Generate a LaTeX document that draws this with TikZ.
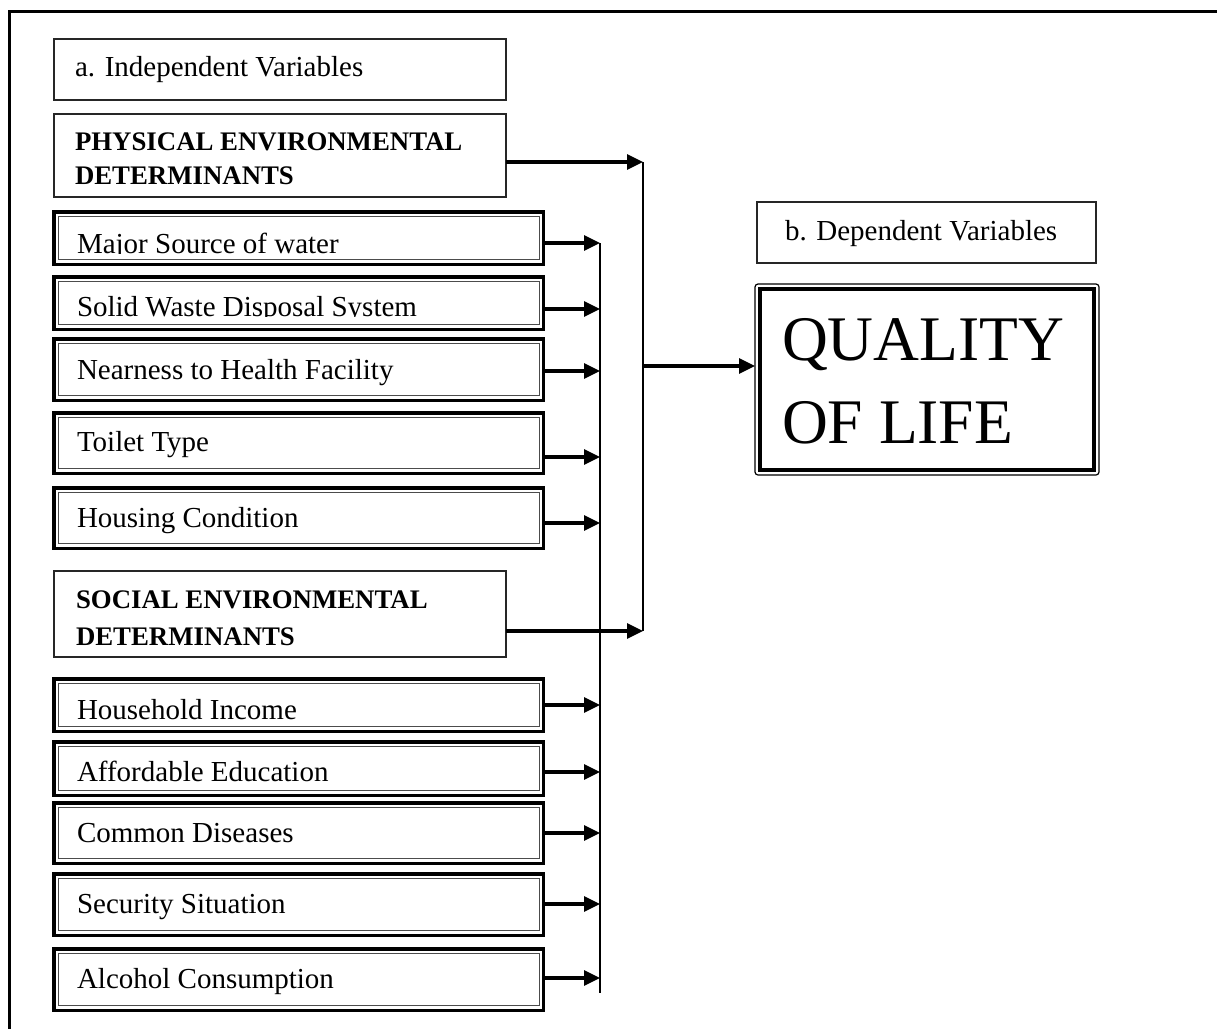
\documentclass[tikz,border=0pt]{standalone}
\usepackage{fontspec}
\setmainfont{Liberation Serif}
\usetikzlibrary{arrows.meta,calc}
\begin{document}
\begin{tikzpicture}[x=1pt,y=-1pt,
  thinbox/.style={draw=black!85, line width=1.3pt, inner sep=0pt, outer sep=0pt, anchor=north west},
  dbox/.style={draw, line width=3.5pt, inner sep=0pt, outer sep=0pt, anchor=north west, minimum width=489.5pt,
    path picture={\draw[line width=1pt, black!70]
      ([shift={(4.5pt,-4.5pt)}]path picture bounding box.north west) rectangle
      ([shift={(-4.5pt,4.5pt)}]path picture bounding box.south east);}},
  qolbox/.style={draw, line width=1.2pt, rounded corners=3pt, inner sep=0pt, outer sep=0pt, anchor=north west,
    path picture={\draw[line width=3.5pt, sharp corners]
      ([shift={(5pt,-5pt)}]path picture bounding box.north west) rectangle
      ([shift={(-5pt,5pt)}]path picture bounding box.south east);}},
  txt/.style={anchor=base west, inner sep=0pt, outer sep=0pt, font=\fontsize{29}{34}\selectfont},
  btxt/.style={anchor=base west, inner sep=0pt, outer sep=0pt, font=\fontsize{26.8}{32}\selectfont\bfseries},
  bigtxt/.style={anchor=base west, inner sep=0pt, outer sep=0pt, font=\fontsize{63.5}{76}\selectfont},
  arr/.style={line width=3.2pt, -{Triangle[length=16pt,width=15pt]}},
  busline/.style={line width=2pt}
]
\useasboundingbox (0,0) rectangle (1217,1028);
\clip (0,0) rectangle (1217,1028);
\fill[white] (0,0) rectangle (1217,1028);

% outer frame (cut off at right and bottom)
\draw[line width=3pt] (9,1040) -- (9,11) -- (1230,11);

% header boxes
\node[thinbox, minimum width=452pt, minimum height=61pt] (indep) at (54,39) {};
\node[txt] (tindep) at (75,76) {a. Independent Variables};

\node[thinbox, minimum width=452pt, minimum height=83pt] (phys) at (54,114) {};
\node[btxt] (tphysa) at (75,150) {PHYSICAL ENVIRONMENTAL};
\node[btxt] (tphysb) at (75,184) {DETERMINANTS};

\node[thinbox, minimum width=452pt, minimum height=86pt] (soc) at (54,571) {};
\node[btxt] (tsoca) at (76,608) {SOCIAL ENVIRONMENTAL};
\begin{scope}
  \clip (60,600) rectangle (500,645);
  \node[btxt] (tsocb) at (76,645) {DETERMINANTS};
\end{scope}

\node[thinbox, minimum width=339pt, minimum height=61pt] (dep) at (757,202) {};
\node[txt] (tdep) at (785,240) {b. Dependent Variables};

% quality of life
\node[qolbox, minimum width=344pt, minimum height=191pt] (qol) at (755,284) {};
\node[bigtxt] (tqa) at (782,360) {QUALITY};
\node[bigtxt] (tqb) at (782,443) {OF LIFE};

% physical items
\node[dbox, minimum height=52.5pt] (b1) at (54,211.75) {};
\begin{scope}
  \clip (60,200) rectangle (540,253.5);
  \node[txt] (t1) at (77,253) {Major Source of water};
\end{scope}
\node[dbox, minimum height=52.5pt] (b2) at (54,276.75) {};
\begin{scope}
  \clip (60,280) rectangle (540,316.5);
  \node[txt] (t2) at (77,316) {Solid Waste Disposal System};
\end{scope}
\node[dbox, minimum height=61.5pt] (b3) at (54,338.75) {};
\node[txt] (t3) at (77,379) {Nearness to Health Facility};
\node[dbox, minimum height=60.5pt] (b4) at (54,412.75) {};
\node[txt] (t4) at (77,451) {Toilet Type};
\node[dbox, minimum height=60.5pt] (b5) at (54,487.75) {};
\node[txt] (t5) at (77,527) {Housing Condition};

% social items
\node[dbox, minimum height=52.5pt] (b6) at (54,678.75) {};
\begin{scope}
  \clip (60,680) rectangle (540,719.5);
  \node[txt] (t6) at (77,719) {Household Income};
\end{scope}
\node[dbox, minimum height=53.5pt] (b7) at (54,741.75) {};
\node[txt] (t7) at (77,781) {Affordable Education};
\node[dbox, minimum height=60.5pt] (b8) at (54,802.75) {};
\node[txt] (t8) at (77,842) {Common Diseases};
\node[dbox, minimum height=61.5pt] (b9) at (54,873.75) {};
\node[txt] (t9) at (77,913) {Security Situation};
\node[dbox, minimum height=61.5pt] (b10) at (54,948.75) {};
\node[txt] (t10) at (77,988) {Alcohol Consumption};

% bus lines
\coordinate (bus1) at (600,243);
\coordinate (bus1end) at (600,993);
\coordinate (bus2) at (643,162);
\coordinate (bus2end) at (643,631);
\draw[busline] (bus1) -- (bus1end);
\draw[busline] (bus2) -- (bus2end);

% arrows into bus 1
\draw[arr] ([yshift=-5pt]b1.east) -- ([yshift=-5pt]b1.east -| bus1);
\draw[arr] ([yshift=-6pt]b2.east) -- ([yshift=-6pt]b2.east -| bus1);
\draw[arr] ([yshift=-1.5pt]b3.east) -- ([yshift=-1.5pt]b3.east -| bus1);
\draw[arr] ([yshift=-14pt]b4.east) -- ([yshift=-14pt]b4.east -| bus1);
\draw[arr] ([yshift=-5pt]b5.east) -- ([yshift=-5pt]b5.east -| bus1);
\draw[arr] (b6.east) -- (b6.east -| bus1);
\draw[arr] ([yshift=-3.5pt]b7.east) -- ([yshift=-3.5pt]b7.east -| bus1);
\draw[arr] (b8.east) -- (b8.east -| bus1);
\draw[arr] ([yshift=0.5pt]b9.east) -- ([yshift=0.5pt]b9.east -| bus1);
\draw[arr] ([yshift=1.5pt]b10.east) -- ([yshift=1.5pt]b10.east -| bus1);

% arrows into bus 2
\draw[arr] ([yshift=-6.5pt]phys.east) -- ([yshift=-6.5pt]phys.east -| bus2);
\draw[arr] ([yshift=-17pt]soc.east) -- ([yshift=-17pt]soc.east -| bus2);

% arrow to quality of life
\draw[arr] ([yshift=13.5pt]qol.west -| bus2) -- ([yshift=13.5pt]qol.west);
\end{tikzpicture}
\end{document}
